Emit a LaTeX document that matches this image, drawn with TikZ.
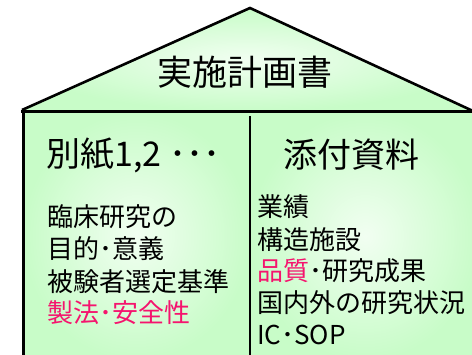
\documentclass[tikz,border=0pt]{standalone}
\usepackage{fontspec}
\newfontfamily\jpfont{Noto Sans CJK JP}
\definecolor{housegreen}{RGB}{200,252,200}
\definecolor{pinktext}{RGB}{245,20,110}
\tikzset{
  head/.style={font=\jpfont\fontsize{34}{36}\selectfont, inner sep=0pt, anchor=west},
  item/.style={font=\jpfont\fontsize{26}{28}\selectfont, inner sep=0pt, anchor=west},
  edge/.style={line width=3pt, black},
  housefill/.style={inner color=housegreen!25!white, outer color=housegreen},
}
\begin{document}
\begin{tikzpicture}[x=1pt,y=-1pt]
\useasboundingbox (0,0) rectangle (472,355);
\clip (0,0) rectangle (472,355);
% body shadings
\shade[housefill] (23,112) rectangle (250,360);
\shade[housefill] (250,112) rectangle (480,360);
% roof
\shade[housefill] (22,110) -- (250,8) -- (472,111) -- cycle;
\coordinate (rl) at (22,110);
\coordinate (ra) at (250,8);
\coordinate (rr) at (473,111);
\draw[line width=2.6pt, line join=miter] (rl) -- (ra) -- (rr);
% body lines
\coordinate (bt1) at (21,112);
\coordinate (bt2) at (480,112);
\coordinate (bl) at (23,360);
\coordinate (dt) at (250,116);
\coordinate (db) at (250,360);
\draw[edge] (bt1) -- (bt2);
\draw[edge] (23,110.5) -- (bl);
\draw[line width=2.6pt] (dt) -- (db);
% texts
\node[font=\jpfont\fontsize{35}{37}\selectfont, inner sep=0pt] (title) at (245,72) {実施計画書};
\node[head] (h1) at (46,155) {別紙1,2 ･･･};
\node[head] (h2) at (283,155) {添付資料};
\node[item] (l1) at (47,217) {臨床研究の};
\node[item] (l2) at (47,249) {目的･意義};
\node[item] (l3) at (47,282) {被験者選定基準};
\node[item, text=pinktext] (l4) at (47,313) {製法･安全性};
\node[item] (r1) at (257,207) {業績};
\node[item] (r2) at (257,240) {構造施設};
\node[item] (r3) at (257,271) {\textcolor{pinktext}{品質}･研究成果};
\node[item] (r4) at (257,303) {国内外の研究状況};
\node[item] (r5) at (257,335) {IC･SOP};
\end{tikzpicture}
\end{document}
